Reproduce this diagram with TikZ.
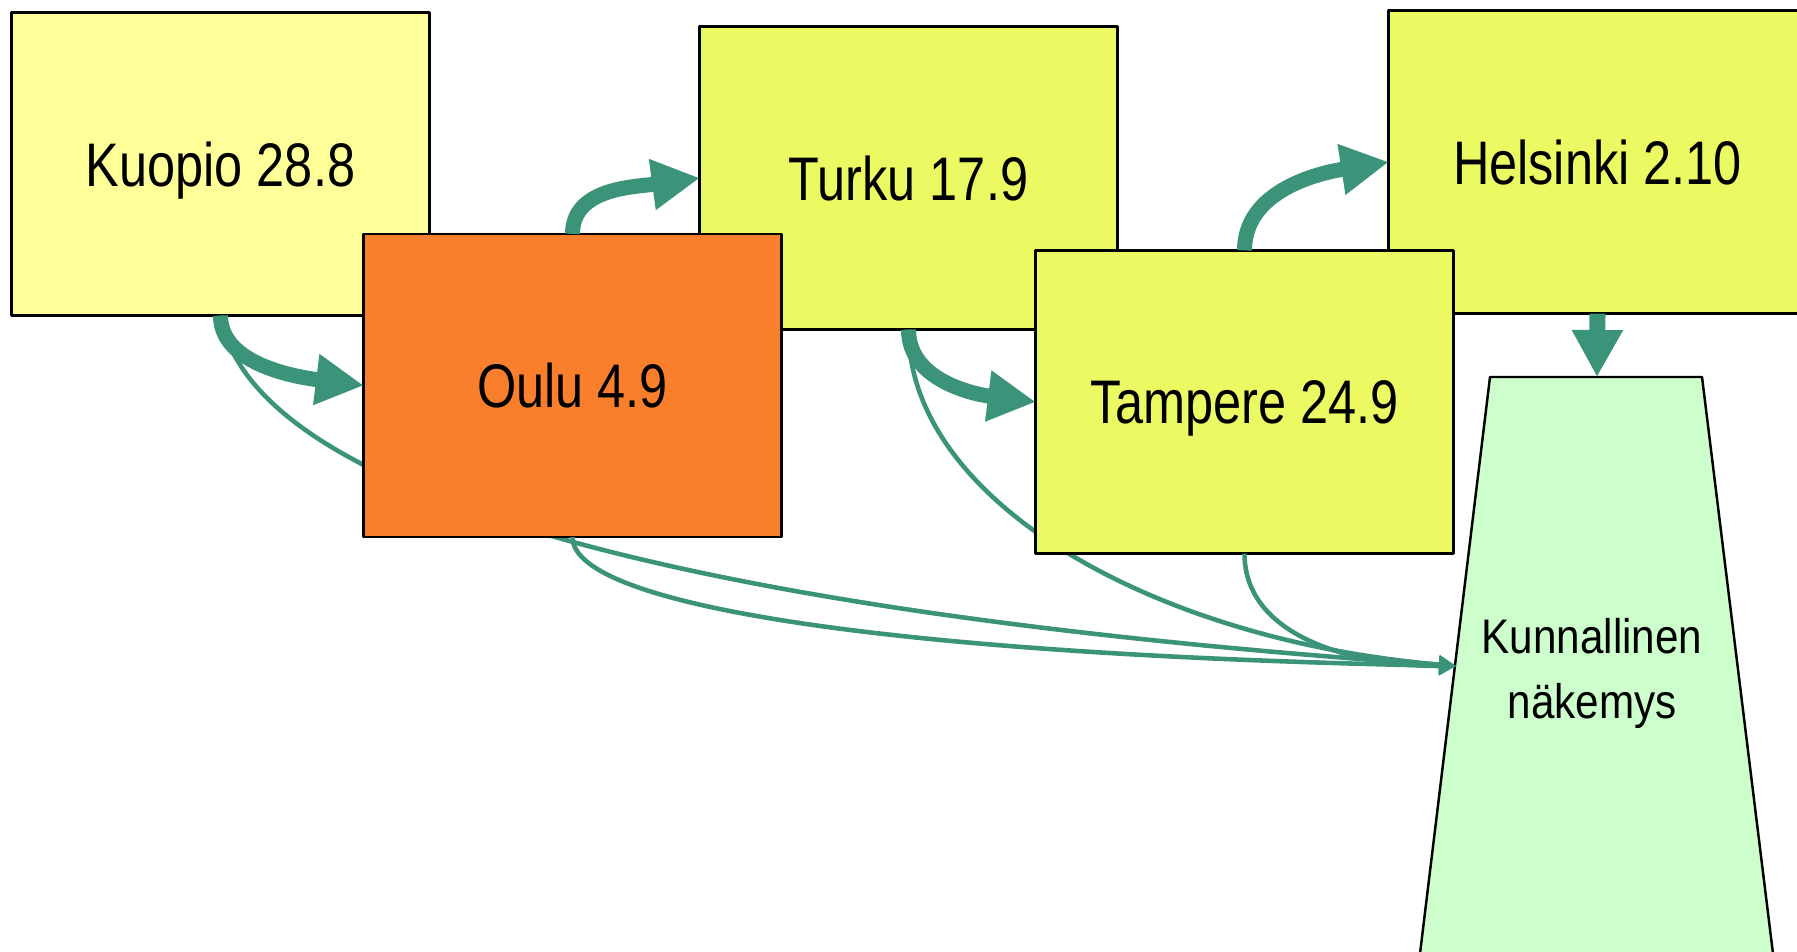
\documentclass[tikz,border=0pt]{standalone}
\usepackage{fontspec}
\setmainfont{Liberation Sans}[FakeStretch=0.82]
\newfontfamily\labelfont{Liberation Sans}[FakeStretch=0.87]
\usepackage{xcolor}
\usetikzlibrary{arrows.meta,positioning,calc}
\definecolor{paleyellow}{HTML}{FFFF99}
\definecolor{lime}{HTML}{EBF963}
\definecolor{hotorange}{HTML}{F97F2C}
\definecolor{mint}{HTML}{CCFFCC}
\definecolor{flowteal}{HTML}{3B947A}
\tikzset{%
      citybox/.style = { draw=black, line width=0.8pt, minimum width=4.17cm, minimum height=3.03cm,
                         inner sep=0pt, outer sep=0pt, text depth=0pt, font=\fontsize{17.5}{20}\selectfont },
      bigflow/.style = { draw=flowteal, line width=0.15cm, -{Triangle[length=0.48cm,width=0.48cm]} },
     thinflow/.style = { draw=flowteal, line width=1.3pt, -{Triangle[length=0.17cm,width=0.18cm]} },
     stemflow/.style = { draw=flowteal, line width=0.16cm, -{Triangle[length=0.47cm,width=0.48cm]} }
}

\begin{document}
\begin{tikzpicture}[x=0.01cm,y=-0.01cm,line join=round]
\useasboundingbox (0,0) rectangle (1797,952);
\clip (0,0) rectangle (1797,952);
% back row
\node[citybox,fill=paleyellow] (kuopio)   at (220.5,164) {Kuopio 28.8};
\node[citybox,fill=lime]       (turku)    at (908.5,178) {Turku 17.9};
\node[citybox,fill=lime]       (helsinki) at (1597.5,162) {Helsinki 2.10};
% target
\coordinate (kt)  at (1597,377);
\coordinate (kin) at (1456,666);
\draw[black,line width=0.7pt,fill=mint] (1490,377) -- (1702,377) -- (1775,970) -- (1418,970) -- cycle;
\node[align=center,text depth=0pt,font=\labelfont\fontsize{13.8}{18.5}\selectfont] (kunn) at (1592,668) {Kunnallinen\\näkemys};
% lines passing behind the front boxes
\draw[thinflow] (kuopio.south) .. controls +(30,172) and +(-806,-56) .. (kin);
\draw[thinflow] (turku.south) .. controls +(0,170) and +(-306,-26) .. (kin);
% front row
\node[citybox,fill=hotorange] (oulu)    at (572.5,385.5) {Oulu 4.9};
\node[citybox,fill=lime]      (tampere) at (1244.5,402) {Tampere 24.9};
\draw[thinflow] (oulu.south) .. controls +(0,70) and +(-556,-11) .. (kin);
\draw[thinflow] (tampere.south) .. controls +(0,86) and +(-96,0) .. (kin);
% chain
\draw[bigflow] (kuopio.south) .. controls +(0,50) and +(-64,-8) .. (oulu.west);
\draw[bigflow] (oulu.north) .. controls +(0,-46) and +(-66,9) .. (turku.west);
\draw[bigflow] (turku.south) .. controls +(0,50) and +(-64,-8) .. (tampere.west);
\draw[bigflow] (tampere.north) .. controls +(0,-60) and +(-70,11) .. (helsinki.west);
\draw[stemflow] (helsinki.south) -- (kt);
\end{tikzpicture}
\end{document}
